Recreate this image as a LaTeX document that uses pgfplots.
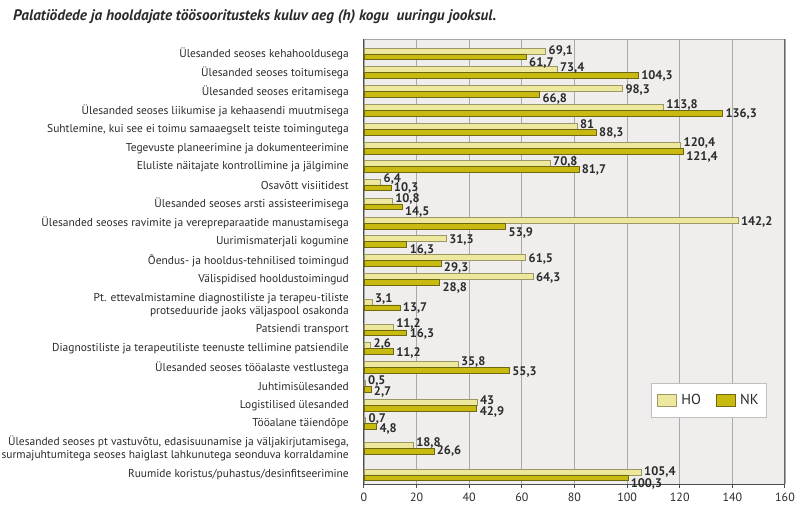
\documentclass[border=0pt]{standalone}
\usepackage{pgfplots}
\pgfplotsset{compat=1.18}
\usepackage{pgfplotstable}
\usepackage{fontspec}
\setmainfont{PT Sans}

\definecolor{hofill}{HTML}{EEE89E}
\definecolor{hodraw}{HTML}{9C9866}
\definecolor{nkfill}{HTML}{C8BA10}
\definecolor{nkdraw}{HTML}{6E6812}
\definecolor{plotbg}{HTML}{EFEEED}
\definecolor{gridc}{HTML}{A9A9A9}
\definecolor{txt}{HTML}{2B2B2B}

\pgfplotsset{
    boxlegend/.style={legend image code/.code={\draw[##1, line width=0.8bp] (0bp,-6bp) rectangle (19bp,6bp);}},
}

% pos = minus the pixel row of the category centre
% hoy, nky = vertical shift (bp) of the value labels
\pgfplotstableread{
pos     ho     nk     hoy   nky
-54     69.1   61.7   3.2   -8.5
-72.5   73.4   104.3  4.0   -3.3
-91.7   98.3   66.8   1.9   -6.8
-110.7  113.8  136.3  5.6   -3.4
-129.3  81     88.3   5.2   -3.8
-148.3  120.4  121.4  5.8   -8.2
-166.7  70.8   81.7   5.2   -3.4
-185    6.4    10.3   6.5   -3.2
-204    10.8   14.5   4.6   -7.8
-223.3  142.2  53.9   1.8   -9.2
-241.7  31.3   16.3   1.6   -7.8
-260.7  61.5   29.3   2.2   -7.4
-279.3  64.3   28.8   1.8   -8.2
-305    3.1    13.7   5.9   -3.1
-330    11.2   16.3   5.9   -4.1
-348.3  2.6    11.2   4.2   -4.8
-367.7  35.8   55.3   5.9   -4.1
-386.3  0.5    2.7    5.6   -6.0
-405.5  43     42.9   5.3   -6.4
-423.5  0.7    4.8    4.6   -5.8
-448.3  18.8   26.6   5.8   -2.5
-475    105.4  100.3  3.2   -8.5
}\times

\begin{document}
\begin{tikzpicture}
\begin{axis}[
    at={(0,0)}, anchor=south west,
    scale only axis,
    width=421bp, height=444.5bp,
    xmin=0, xmax=160,
    ymin=-484, ymax=-39.5,
    enlargelimits=false,
    clip=false,
    axis x line*=bottom,
    axis y line*=left,
    axis line style={draw=black!70, line width=1bp},
    axis background/.style={fill=plotbg},
    xtick={0,20,...,160},
    tick align=outside,
    major tick length=4bp,
    x tick style={draw=black!70, line width=1bp},
    y tick style={draw=none},
    xmajorgrids,
    grid style={gridc, line width=1.2bp},
    ytick=data,
    yticklabels={
        Ülesanded seoses kehahooldusega,
        Ülesanded seoses toitumisega,
        Ülesanded seoses eritamisega,
        Ülesanded seoses liikumise ja kehaasendi muutmisega,
        {Suhtlemine, kui see ei toimu samaaegselt teiste toimingutega},
        Tegevuste planeerimine ja dokumenteerimine,
        Eluliste näitajate kontrollimine ja jälgimine,
        Osavõtt visiitidest,
        Ülesanded seoses arsti assisteerimisega,
        Ülesanded seoses ravimite ja verepreparaatide manustamisega,
        Uurimismaterjali kogumine,
        Õendus- ja hooldus-tehnilised toimingud,
        Välispidised hooldustoimingud,
        {Pt. ettevalmistamine diagnostiliste ja terapeu-tiliste\\protseduuride jaoks väljaspool osakonda},
        Patsiendi transport,
        Diagnostiliste ja terapeutiliste teenuste tellimine patsiendile,
        Ülesanded seoses tööalaste vestlustega,
        Juhtimisülesanded,
        Logistilised ülesanded,
        Tööalane täiendõpe,
        {Ülesanded seoses pt vastuvõtu, edasisuunamise ja väljakirjutamisega,\\surmajuhtumitega seoses haiglast lahkunutega seonduva korraldamine},
        Ruumide koristus/puhastus/desinfitseerimine
    },
    yticklabel style={font=\fontsize{11.5}{13}\selectfont, text=txt, align=right, inner sep=0pt, xshift=-11bp},
    xticklabel style={font=\fontsize{12}{14}\selectfont, text=txt, yshift=-1bp},
    /pgf/number format/assume math mode=true,
    legend columns=2,
    legend style={at={(0.6817,0.2272)}, anchor=north west,
        draw=black!25, line width=1bp, fill=white,
        font=\fontsize{14.5}{16}\selectfont, text=txt,
        inner xsep=6bp, inner ysep=9.5bp,
        nodes={inner sep=1.5bp},
        /tikz/every odd column/.append style={column sep=2.5bp},
        /tikz/every even column/.append style={column sep=14bp}},
    nodes near coords={\pgfmathprintnumber[use comma]{\pgfplotspointmeta}},
    nodes near coords align={horizontal},
]
\addplot[xbar, bar width=5.8, bar shift=2.9, fill=hofill, draw=hodraw, line width=0.8bp,
    point meta=x, boxlegend,
    visualization depends on={\thisrow{hoy} \as \hoy},
    nodes near coords style={anchor=west, font=\bfseries\fontsize{12.5}{14}\selectfont, text=txt, inner sep=1bp, xshift=1.5bp, yshift=\hoy*1bp}]
    table[x=ho, y=pos]{\times};
\addlegendentry{HO}
\addplot[xbar, bar width=5.8, bar shift=-2.9, fill=nkfill, draw=nkdraw, line width=0.8bp,
    point meta=x, boxlegend,
    visualization depends on={\thisrow{nky} \as \nky},
    nodes near coords style={anchor=west, font=\bfseries\fontsize{12.5}{14}\selectfont, text=txt, inner sep=1bp, xshift=1.5bp, yshift=\nky*1bp}]
    table[x=nk, y=pos]{\times};
\addlegendentry{NK}
\draw[black!35, line width=1bp] (rel axis cs:0,1) -- (rel axis cs:1,1);
\draw[black!60, line width=1bp] (rel axis cs:1,0) -- (rel axis cs:1,1);
\end{axis}
\node[anchor=west, inner sep=0pt, text=txt, font=\bfseries\itshape\fontsize{15.3}{17}\selectfont]
    at (-351bp,467bp) {Palatiödede ja hooldajate töösooritusteks kuluv aeg (h) kogu \ uuringu jooksul.};
\pgfresetboundingbox
\path (-364bp,-27bp) rectangle (436bp,484bp);
\end{tikzpicture}
\end{document}
